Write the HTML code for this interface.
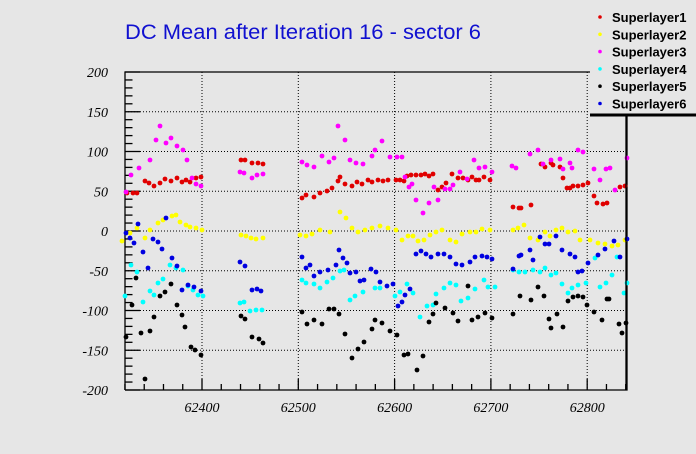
<!DOCTYPE html>
<html><head><meta charset="utf-8"><style>
html,body{margin:0;padding:0;background:#e6e6e6;}
svg{display:block}
.t{font-family:"Liberation Serif",serif;font-style:italic;font-size:14px;fill:#000}
.l{font-family:"Liberation Sans",sans-serif;font-weight:bold;font-size:13px;fill:#000}
</style></head><body>
<svg id="s" width="696" height="454" xmlns="http://www.w3.org/2000/svg">
<rect width="696" height="454" fill="#e6e6e6"/>
<text x="125" y="39" font-family="Liberation Sans, sans-serif" font-size="21" textLength="356" lengthAdjust="spacingAndGlyphs" fill="#1010d0">DC Mean after Iteration 16 - sector 6</text>
<g id="grid" stroke="#000" stroke-width="1" stroke-dasharray="1,2"></g>
<g id="ax" stroke="#000" stroke-width="1.3" fill="none"></g>
<g id="lab"></g>
<g id="pts"></g>
<g id="leg">
<rect x="590" y="0" width="106" height="114" fill="#e6e6e6"/>
<line x1="590" y1="115" x2="696" y2="115" stroke="#000" stroke-width="3"/>
<line x1="626" y1="115" x2="626" y2="390" stroke="#000" stroke-width="1.3"/>
</g>
</svg>
<script>
var s=document.getElementById('s'),NS='http://www.w3.org/2000/svg';
function el(p,t,a,txt){var e=document.createElementNS(NS,t);for(var k in a)e.setAttribute(k,a[k]);if(txt)e.textContent=txt;document.getElementById(p).appendChild(e);return e;}
var L=125,R=627,T=72,B=390;
function Y(v){return 231-v*0.795;}
function X(v){return 202+(v-62400)*0.963;}
[-150,-100,-50,0,50,100,150].forEach(function(v){el('grid','line',{x1:L,x2:R,y1:Y(v),y2:Y(v)});});
[62400,62500,62600,62700,62800].forEach(function(v){el('grid','line',{x1:X(v),x2:X(v),y1:T,y2:B});});
el('ax','path',{d:'M'+L+' '+B+'H'+R+'V115M'+L+' '+B+'V'+T+'H590'});
for(var v=-200;v<=200;v+=10){var y=Y(v);el('ax','line',{x1:L,x2:L+(v%50==0?15:7.5),y1:y,y2:y});}
for(var v=62320;v<=62840;v+=20){var x=X(v);el('ax','line',{x1:x,x2:x,y1:B,y2:B-(v%100==0?11:6)});}
for(var v=-200;v<=200;v+=50){el('lab','text',{x:108,y:Y(v)+5,'text-anchor':'end','class':'t'},String(v));}
[62400,62500,62600,62700,62800].forEach(function(v){el('lab','text',{x:X(v),y:412,'text-anchor':'middle','class':'t'},String(v));});
var D={
'#e00000':[[127,193],[133,193],[137,193],[145,181],[149,183],[154,186],[160,183],[165,179],[171,181],[177,178],[182,182],[186,180],[190,182],[196,178],[201,177],[241,160],[245,160],[252,163],[258,163],[263,164],[302,198],[306,195],[314,197],[320,193],[327,191],[332,188],[338,181],[340,177],[345,184],[352,186],[357,182],[362,184],[368,180],[372,182],[378,180],[383,181],[388,180],[396,180],[400,180],[404,181],[407,176],[411,175],[416,175],[421,175],[425,174],[429,176],[433,174],[438,190],[442,187],[446,183],[452,174],[458,178],[463,178],[468,180],[472,177],[476,180],[479,180],[484,177],[490,180],[513,207],[519,208],[521,208],[531,205],[541,164],[545,167],[551,163],[553,165],[560,167],[563,178],[567,188],[570,188],[573,186],[578,186],[583,185],[588,183],[594,196],[597,203],[603,204],[607,203],[620,187],[625,186]],
'#ff00ff':[[126,192],[131,175],[139,168],[150,160],[156,140],[160,126],[166,143],[171,138],[177,146],[183,150],[187,160],[192,178],[196,184],[201,186],[240,172],[244,173],[252,178],[257,175],[263,174],[302,162],[307,165],[314,167],[322,156],[329,162],[334,158],[338,126],[345,140],[350,160],[356,163],[363,164],[372,156],[375,150],[382,141],[390,157],[397,157],[402,157],[405,177],[409,187],[412,184],[416,200],[423,213],[429,203],[434,187],[438,200],[445,189],[450,189],[453,185],[460,172],[467,179],[474,160],[479,168],[485,167],[492,172],[512,166],[516,168],[530,154],[538,150],[543,164],[551,160],[560,159],[563,169],[570,163],[572,168],[578,150],[583,152],[594,169],[600,180],[606,169],[610,168],[615,190],[627,158]],
'#ffff00':[[122,241],[130,233],[137,228],[145,238],[150,230],[158,223],[163,220],[172,216],[176,215],[180,222],[186,225],[190,227],[196,228],[202,230],[241,235],[246,236],[251,238],[256,239],[263,238],[300,235],[306,236],[312,234],[320,230],[330,232],[340,212],[346,218],[352,228],[358,232],[365,230],[372,228],[380,226],[388,228],[396,230],[402,240],[408,236],[413,236],[418,241],[424,240],[430,235],[436,232],[442,230],[450,240],[456,242],[462,234],[470,232],[476,232],[482,229],[490,230],[513,230],[518,228],[524,225],[530,238],[538,240],[545,232],[550,236],[556,230],[562,228],[568,232],[575,231],[580,240],[590,240],[598,243],[605,244],[612,246],[618,245],[625,240]],
'#00ffff':[[125,296],[131,265],[137,272],[143,302],[150,291],[154,295],[158,283],[163,279],[170,265],[176,268],[183,270],[188,286],[193,290],[198,295],[203,296],[240,303],[244,302],[250,311],[256,310],[262,310],[302,280],[306,283],[314,284],[320,288],[327,282],[333,278],[340,271],[344,270],[350,300],[355,296],[363,292],[375,288],[380,288],[395,296],[400,292],[407,284],[413,293],[420,317],[427,306],[433,305],[436,294],[444,288],[450,283],[456,285],[461,301],[468,298],[475,289],[484,280],[488,287],[495,287],[513,270],[519,272],[525,272],[533,270],[540,272],[545,268],[551,275],[556,273],[562,284],[568,293],[572,288],[578,285],[586,283],[595,258],[600,287],[606,283],[612,275],[617,257],[624,293],[627,283]],
'#000000':[[126,337],[132,305],[136,278],[141,333],[145,379],[150,331],[154,317],[160,296],[165,292],[171,284],[177,305],[182,315],[185,327],[191,347],[195,350],[201,355],[241,316],[245,319],[252,337],[259,339],[263,343],[302,312],[307,324],[314,320],[322,324],[329,309],[334,309],[339,314],[345,334],[352,358],[358,349],[364,342],[372,329],[375,320],[382,323],[390,331],[397,335],[404,355],[408,354],[417,370],[423,356],[429,322],[433,314],[436,303],[445,308],[453,313],[458,321],[468,286],[472,320],[478,317],[485,313],[492,318],[513,314],[520,296],[531,300],[538,287],[544,296],[549,319],[551,328],[557,314],[563,327],[568,301],[573,297],[578,296],[583,297],[587,305],[594,312],[602,320],[607,299],[609,299],[619,324],[622,333],[626,323]],
'#0000e0':[[126,233],[130,238],[134,243],[138,224],[143,252],[148,268],[153,239],[158,242],[162,249],[166,218],[172,258],[177,266],[182,290],[188,285],[194,287],[201,291],[240,262],[245,266],[252,290],[257,289],[261,291],[302,257],[306,268],[310,265],[314,276],[320,272],[328,270],[336,265],[339,250],[343,258],[347,263],[350,273],[356,272],[360,281],[364,280],[371,269],[376,272],[380,282],[387,286],[393,284],[398,306],[402,302],[405,295],[410,289],[416,254],[421,251],[426,254],[431,257],[438,254],[444,254],[450,257],[456,264],[462,265],[470,262],[475,257],[482,256],[487,257],[492,259],[513,269],[519,256],[521,255],[530,250],[533,260],[540,237],[545,244],[549,244],[556,236],[562,250],[570,254],[575,257],[578,272],[582,271],[588,263],[598,255],[605,249],[614,241],[620,257],[627,239]]
};
for(var c in D){D[c].forEach(function(p){if(p[1]<116&&p[0]>589)return;el('pts','circle',{cx:p[0],cy:p[1],r:2.4,fill:c});});}
var names=['Superlayer1','Superlayer2','Superlayer3','Superlayer4','Superlayer5','Superlayer6'];
var cols=['#e00000','#ffff00','#ff00ff','#00ffff','#000000','#0000e0'];
for(var i=0;i<6;i++){var y=17+i*17.3;el('leg','circle',{cx:600,cy:y,r:1.8,fill:cols[i]});el('leg','text',{x:612,y:y+5,'class':'l'},names[i]);}
</script>
</body></html>
